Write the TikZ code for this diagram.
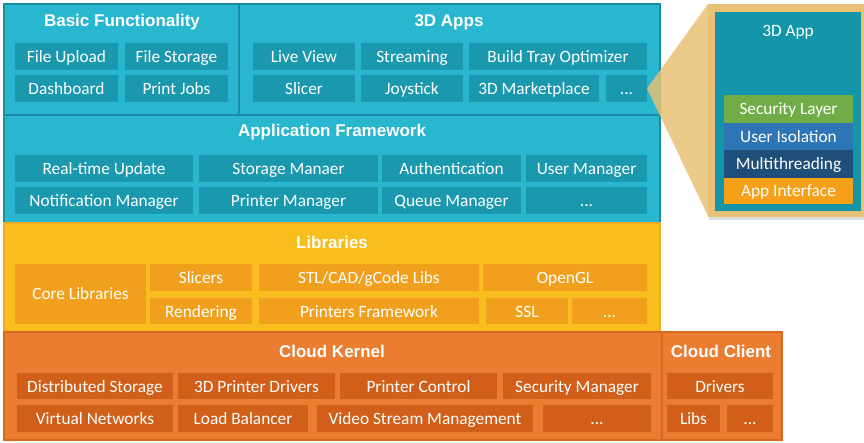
\documentclass[tikz,border=0pt]{standalone}
\usepackage{fontspec}
\setmainfont{Carlito}
\newfontfamily\headfont{Liberation Sans}
\usetikzlibrary{shadows}

\definecolor{tealSec}{RGB}{41,182,207}
\definecolor{tealLine}{RGB}{28,140,165}
\definecolor{tealCell}{RGB}{26,152,174}
\definecolor{appBox}{RGB}{19,150,170}
\definecolor{yelSec}{RGB}{248,190,30}
\definecolor{yelLine}{RGB}{240,168,40}
\definecolor{yelCell}{RGB}{241,160,30}
\definecolor{orSec}{RGB}{235,125,50}
\definecolor{orLine}{RGB}{214,104,34}
\definecolor{orCell}{RGB}{210,95,25}
\definecolor{secGreen}{RGB}{112,173,71}
\definecolor{isoBlue}{RGB}{46,117,182}
\definecolor{mtNavy}{RGB}{31,78,121}
\definecolor{ifOrange}{RGB}{245,160,25}
\definecolor{tan}{RGB}{231,193,118}

% \blk{style}{name}{x}{y}{width}{height}{text}: box placed by its top-left corner
\newcommand\blk[7]{\node[#1,minimum width=#5pt,minimum height=#6pt] (#2) at (#3,#4) {#7};}

\begin{document}
\begin{tikzpicture}[x=1pt,y=-1pt,
  box/.style={anchor=north west, inner sep=0pt, outer sep=0pt},
  sec/.style={box, draw, line width=1.5pt},
  tealsec/.style={sec, fill=tealSec, draw=tealLine},
  yelsec/.style={sec, fill=yelSec, draw=yelLine},
  orsec/.style={sec, fill=orSec, draw=orLine},
  head/.style={font=\headfont\bfseries\fontsize{17}{20}\selectfont, text=white, inner sep=0pt},
  cell/.style={box, text=white, font=\fontsize{17.3}{20}\selectfont, text height=14pt, text depth=2pt},
  tcell/.style={cell, fill=tealCell},
  ycell/.style={cell, fill=yelCell},
  ocell/.style={cell, fill=orCell},
  layer/.style={cell, text=white}
]
\useasboundingbox (0,0) rectangle (864,443);

% ---- sections ----
\blk{tealsec}{basic}{4}{4}{235}{111}{}
\blk{tealsec}{apps}{239}{4}{421}{111}{}
\blk{tealsec}{frame}{4}{115}{656}{108}{}
\blk{yelsec}{libs}{4}{223}{656}{109}{}
\blk{orsec}{kernel}{4}{332}{658}{108}{}
\blk{orsec}{client}{662}{332}{120}{108}{}

% ---- section titles ----
\node[head] (tBasic) at (122,22) {Basic Functionality};
\node[head] (tApps) at (449,22) {3D Apps};
\node[head] (tFrame) at (332,132) {Application Framework};
\node[head] (tLibs) at (332,242) {Libraries};
\node[head] (tKernel) at (332,351) {Cloud Kernel};
\node[head] (tClient) at (721,351) {Cloud Client};

% ---- basic functionality ----
\blk{tcell}{upload}{15}{43}{103}{27}{File Upload}
\blk{tcell}{storage}{125}{43}{103}{27}{File Storage}
\blk{tcell}{dash}{15}{75}{103}{27}{Dashboard}
\blk{tcell}{jobs}{125}{75}{103}{27}{Print Jobs}

% ---- 3D apps ----
\blk{tcell}{live}{253}{43}{102}{27}{Live View}
\blk{tcell}{stream}{361}{43}{102}{27}{Streaming}
\blk{tcell}{tray}{469}{43}{178}{27}{Build Tray Optimizer}
\blk{tcell}{slicer}{253}{75}{102}{27}{Slicer}
\blk{tcell}{joy}{361}{75}{102}{27}{Joystick}
\blk{tcell}{market}{469}{75}{130}{27}{3D Marketplace}
\blk{tcell}{dots}{606}{75}{41}{27}{...}

% ---- application framework ----
\blk{tcell}{rt}{15}{155}{178}{27}{Real-time Update}
\blk{tcell}{stman}{199}{155}{179}{27}{Storage Manaer}
\blk{tcell}{auth}{382}{155}{139}{27}{Authentication}
\blk{tcell}{user}{526}{155}{121}{27}{User Manager}
\blk{tcell}{notif}{15}{187}{178}{27}{Notification Manager}
\blk{tcell}{prman}{199}{187}{179}{27}{Printer Manager}
\blk{tcell}{queue}{382}{187}{139}{27}{Queue Manager}
\blk{tcell}{fwmore}{526}{187}{121}{27}{...}

% ---- libraries ----
\blk{ycell}{core}{15}{264}{131}{60}{Core Libraries}
\blk{ycell}{slicers}{150}{264}{102}{27}{Slicers}
\blk{ycell}{render}{150}{298}{102}{26}{Rendering}
\blk{ycell}{stl}{259}{264}{220}{27}{STL/CAD/gCode Libs}
\blk{ycell}{prfw}{259}{298}{220}{26}{Printers Framework}
\blk{ycell}{gl}{483}{264}{164}{27}{OpenGL}
\blk{ycell}{ssl}{486}{298}{82}{26}{SSL}
\blk{ycell}{libmore}{572}{298}{75}{26}{...}

% ---- cloud kernel ----
\blk{ocell}{dist}{17}{373}{156}{26}{Distributed Storage}
\blk{ocell}{drv}{178}{373}{157}{26}{3D Printer Drivers}
\blk{ocell}{ctrl}{340}{373}{157}{26}{Printer Control}
\blk{ocell}{secman}{503}{373}{148}{26}{Security Manager}
\blk{ocell}{vnet}{17}{405}{156}{27}{Virtual Networks}
\blk{ocell}{lb}{178}{405}{130}{27}{Load Balancer}
\blk{ocell}{video}{317}{405}{216}{27}{Video Stream Management}
\blk{ocell}{kmore}{543}{405}{108}{27}{...}

% ---- cloud client ----
\blk{ocell}{cdrv}{667}{373}{106}{26}{Drivers}
\blk{ocell}{clibs}{667}{405}{53}{27}{Libs}
\blk{ocell}{cmore}{727}{405}{46}{27}{...}

% ---- zoomed view of a single app ----
\coordinate (zoomNW) at (708,4);
\coordinate (zoomSW) at (708,216);
\fill[tan, opacity=0.85] (dots.east) -- (zoomNW) -- (zoomSW) -- cycle;
\blk{box, fill=tan, drop shadow={shadow xshift=1pt, shadow yshift=-3pt, opacity=0.25}}{zoom}{708}{4}{156}{213}{}
\blk{box, fill=appBox}{app}{715}{12}{146}{199}{}
\node[text=white, font=\fontsize{17.3}{20}\selectfont] (tApp) at (788,32) {3D App};
\blk{layer, fill=secGreen}{seclayer}{724}{95}{129}{28}{Security Layer}
\blk{layer, fill=isoBlue}{iso}{724}{123}{129}{27}{User Isolation}
\blk{layer, fill=mtNavy}{mt}{724}{150}{129}{28}{Multithreading}
\blk{layer, fill=ifOrange}{appif}{724}{178}{129}{26}{App Interface}
\end{tikzpicture}
\end{document}
